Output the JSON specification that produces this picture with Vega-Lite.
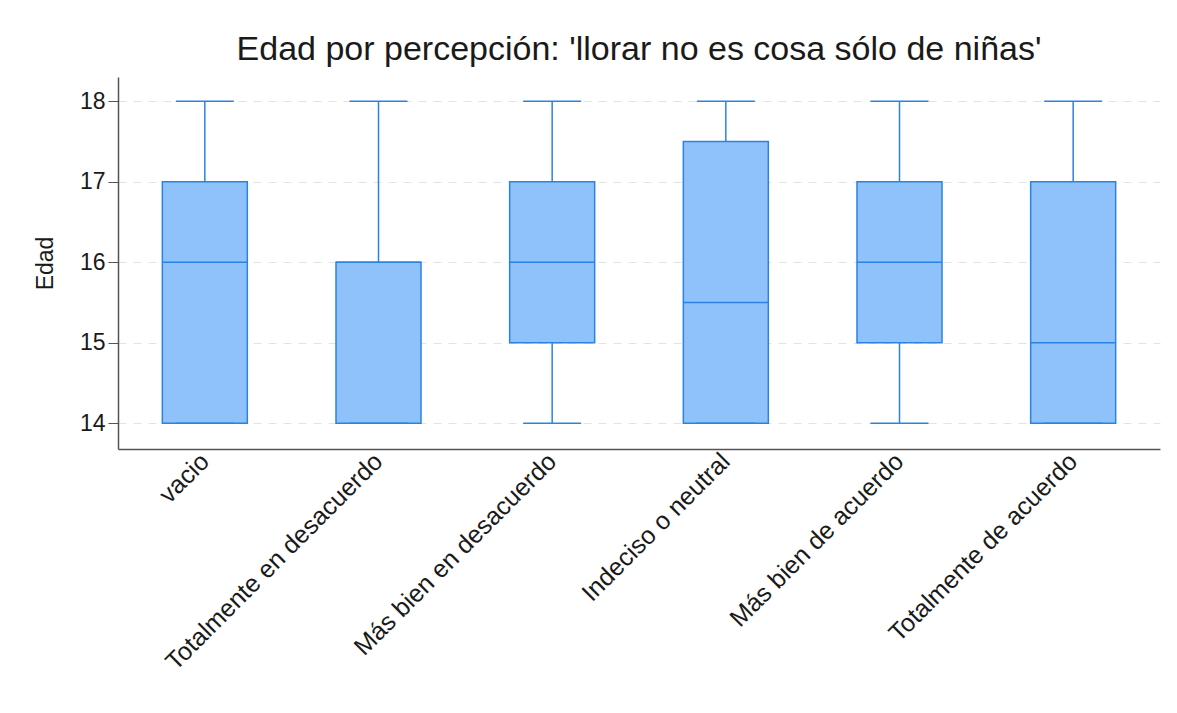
{
  "$schema": "https://vega.github.io/schema/vega-lite/v6.json",
  "width": 1042,
  "height": 372,
  "autosize": {"type": "none"},
  "padding": {"left": 118, "top": 77, "right": 17, "bottom": 264},
  "background": "white",
  "config": {
    "font": "Liberation Sans",
    "view": {"stroke": null},
    "axis": {"labelFont": "Liberation Sans", "titleFont": "Liberation Sans"}
  },
  "title": {
    "text": "Edad por percepción: 'llorar no es cosa sólo de niñas'",
    "fontSize": 34,
    "fontWeight": "normal",
    "color": "#1a1a1a",
    "anchor": "middle",
    "offset": 10
  },
  "data": {
    "values": [
      {"cat": "vacio", "min": 14, "q1": 14, "median": 16, "q3": 17, "max": 18},
      {"cat": "Totalmente en desacuerdo", "min": 14, "q1": 14, "median": 16, "q3": 16, "max": 18},
      {"cat": "Más bien en desacuerdo", "min": 14, "q1": 15, "median": 16, "q3": 17, "max": 18},
      {"cat": "Indeciso o neutral", "min": 14, "q1": 14, "median": 15.5, "q3": 17.5, "max": 18},
      {"cat": "Más bien de acuerdo", "min": 14, "q1": 15, "median": 16, "q3": 17, "max": 18},
      {"cat": "Totalmente de acuerdo", "min": 14, "q1": 14, "median": 15, "q3": 17, "max": 18}
    ]
  },
  "encoding": {
    "x": {
      "field": "cat",
      "type": "nominal",
      "sort": null,
      "scale": {"paddingInner": 0, "paddingOuter": 0},
      "axis": {
        "title": null,
        "labelAngle": -45,
        "labelAlign": "right",
        "labelBaseline": "middle",
        "labelFontSize": 25,
        "labelColor": "#1a1a1a",
        "labelPadding": 8,
        "ticks": false,
        "domainColor": "#555555",
        "domainWidth": 1.5,
        "grid": false,
        "labelLimit": 500
      }
    }
  },
  "layer": [
    {
      "mark": {"type": "rule", "color": "#2a83e0", "strokeWidth": 1.5},
      "encoding": {
        "y": {
          "field": "min",
          "type": "quantitative",
          "scale": {"domain": [13.68, 18.3], "nice": false, "zero": false},
          "axis": {
            "title": "Edad",
            "titleFontSize": 23,
            "titleFontWeight": "normal",
            "titleColor": "#1a1a1a",
            "titlePadding": 22,
            "values": [14, 15, 16, 17, 18],
            "format": "d",
            "labelFontSize": 23,
            "labelColor": "#1a1a1a",
            "labelPadding": 3,
            "tickSize": 10,
            "tickColor": "#555555",
            "domainColor": "#555555",
            "domainWidth": 1.5,
            "grid": true,
            "gridColor": "#e3e3e3",
            "gridDash": [8, 7],
            "gridWidth": 1.2
          }
        },
        "y2": {"field": "max"}
      }
    },
    {
      "mark": {"type": "bar", "size": 85, "fill": "#8fc2fb", "stroke": "#2a83e0", "strokeWidth": 1.5},
      "encoding": {
        "y": {"field": "q1", "type": "quantitative"},
        "y2": {"field": "q3"}
      }
    },
    {
      "mark": {"type": "tick", "size": 85, "thickness": 1.5, "color": "#2a83e0", "opacity": 1},
      "encoding": {"y": {"field": "median", "type": "quantitative"}}
    },
    {
      "mark": {"type": "tick", "size": 58, "thickness": 1.5, "color": "#2a83e0", "opacity": 1},
      "encoding": {"y": {"field": "min", "type": "quantitative"}}
    },
    {
      "mark": {"type": "tick", "size": 58, "thickness": 1.5, "color": "#2a83e0", "opacity": 1},
      "encoding": {"y": {"field": "max", "type": "quantitative"}}
    }
  ]
}
